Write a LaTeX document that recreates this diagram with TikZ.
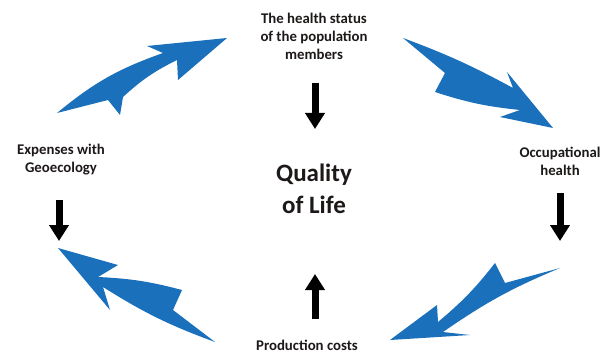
\documentclass[tikz,border=0pt]{standalone}
\usepackage{fontspec}
\setmainfont{Carlito}
\usetikzlibrary{arrows.meta}
\definecolor{swooshblue}{RGB}{27,112,187}
\definecolor{txt}{RGB}{30,25,25}
\begin{document}
\begin{tikzpicture}[x=1pt,y=-1pt,
  lbl/.style={font=\bfseries\fontsize{14.8}{18}\selectfont, align=center, inner sep=0pt, text=txt},
  big/.style={font=\bfseries\fontsize{25}{32}\selectfont, align=center, inner sep=0pt, text=txt},
  blk/.style={line width=7pt, -{Triangle[width=19pt,length=16pt]}, black},
  swoosh/.style={fill=swooshblue, draw=none}]
\useasboundingbox (0,0) rectangle (612,355);
\fill[white] (0,0) rectangle (612,355);

% labels
\node[lbl] (health) at (314,36) {The health status\\of the population\\members};
\node[lbl] (expenses) at (61,160) {Expenses with\\Geoecology};
\node[lbl] (occup) at (560,161) {Occupational\\health};
\node[big] (qol) at (314,189) {Quality\\of Life};
\node[lbl] (prod) at (307,345.5) {Production costs};

% black arrows
\coordinate (t1) at (315,83);  \coordinate (t2) at (315,129);
\coordinate (l1) at (59,200);  \coordinate (l2) at (59,241);
\coordinate (r1) at (560,193); \coordinate (r2) at (560,241);
\coordinate (b1) at (315,319); \coordinate (b2) at (315,274);
\draw[blk] (t1) -- (t2);
\draw[blk] (l1) -- (l2);
\draw[blk] (r1) -- (r2);
\draw[blk] (b1) -- (b2);

% blue swooshes
% top-left
\fill[swoosh] (57,113) to[bend left=10] (163,53) -- (147,46) -- (227,38) -- (178,80)
  -- (177,60) to[bend right=8] (123,97) -- (120,115) -- (108,100) -- cycle;
% top-right
\fill[swoosh] (403,38) to[bend left=4] (513,88) -- (507,72) -- (553,128) -- (500,117)
  -- (520,110) to[bend left=6] (435,92) -- (445,73) -- cycle;
% bottom-left
\fill[swoosh] (58,248) -- (118,265) -- (98,277) to[bend left=6] (182,290) -- (173,310)
  -- (215,342) to[bend left=6] (103,287) -- (110,310) -- cycle;
% bottom-right
\fill[swoosh] (560,268) -- (505,283) -- (495,263) to[bend left=6] (438,322) -- (437,305)
  -- (390,340) -- (470,335) -- (443,332) to[bend left=6] (560,268) -- cycle;
\end{tikzpicture}
\end{document}
